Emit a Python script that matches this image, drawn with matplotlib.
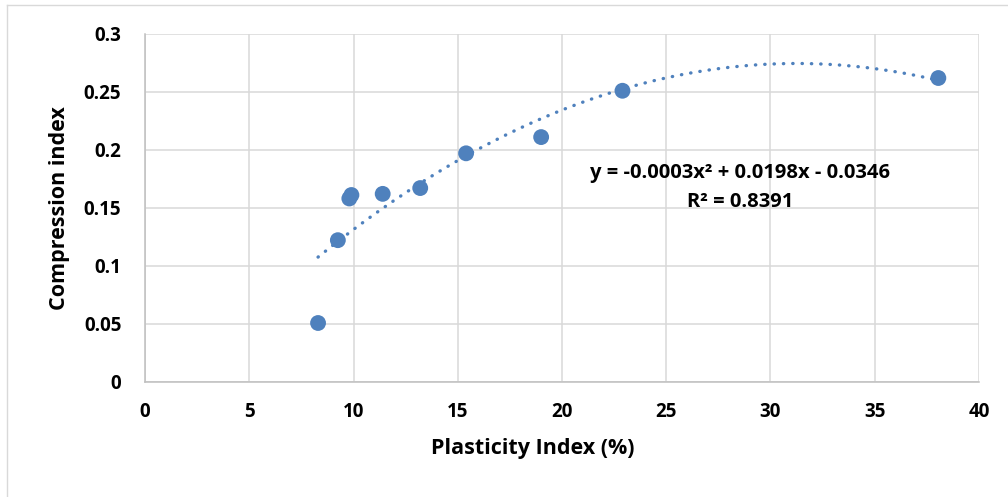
import numpy as np
import matplotlib
matplotlib.use("Agg")
from matplotlib import pyplot as plt
from matplotlib.lines import Line2D

# plasticity index (%) vs compression index
plasticity_index = [8.3, 9.25, 9.8, 9.9, 11.4, 13.2, 15.4, 19.0, 22.9, 38.05]
compression_index = [0.0505, 0.122, 0.158, 0.161, 0.162, 0.167, 0.197, 0.211, 0.251, 0.262]

x_ticks = [0, 5, 10, 15, 20, 25, 30, 35, 40]
y_ticks = [0, 0.05, 0.1, 0.15, 0.2, 0.25, 0.3]
y_tick_labels = ["0", "0.05", "0.1", "0.15", "0.2", "0.25", "0.3"]

equation_text = "y = -0.0003x\u00b2 + 0.0198x - 0.0346"
r2_text = "R\u00b2 = 0.8391"

point_color = "#4f81bd"
grid_color = "#d9d9d9"

plt.rcParams["font.family"] = ["Open Sans", "DejaVu Sans"]
plt.rcParams["font.weight"] = "bold"

W, H = 1008, 497
fig = plt.figure(figsize=(W / 100, H / 100), dpi=100)
ax = fig.add_axes([145 / W, 1 - 381.5 / H, (979 - 145) / W, (381.5 - 34) / H])

# second order trendline fitted to the points
coeffs = np.polyfit(plasticity_index, compression_index, 2)
xs = np.linspace(min(plasticity_index), max(plasticity_index), 300)
ax.plot(xs, np.polyval(coeffs, xs), color=point_color, lw=2.4,
        linestyle=(0, (0.1, 2.7)), dash_capstyle="round", zorder=3)

ax.scatter(plasticity_index, compression_index, s=130, color=point_color,
           edgecolors="none", zorder=4)

ax.set_xlim(0, 40)
ax.set_ylim(0, 0.3)
ax.set_xticks(x_ticks)
ax.set_yticks(y_ticks)
ax.set_yticklabels(y_tick_labels)
ax.grid(True, color=grid_color, lw=1.1)
ax.set_axisbelow(True)
ax.tick_params(length=0, labelsize=13.5, colors="#000000")
ax.tick_params(axis="y", pad=17)
ax.tick_params(axis="x", pad=15)
for label in ax.get_xticklabels() + ax.get_yticklabels():
    label.set_fontweight("bold")
for side in ["top", "right"]:
    ax.spines[side].set_visible(False)
for side in ["left", "bottom"]:
    ax.spines[side].set_color("#bfbfbf")
    ax.spines[side].set_linewidth(1.1)

ax.set_xlabel("Plasticity Index (%)", fontsize=15.5, fontweight="bold")
ax.xaxis.set_label_coords((533 - 145) / 834, -(438 - 381.5) / 347.5)
ax.set_ylabel("Compression index", fontsize=15.5, fontweight="bold", labelpad=10)

# equation and R² placed in figure pixels (origin at the top left)
fig.text(740 / W, 1 - 173 / H, equation_text, fontsize=14.5, fontweight="bold",
         ha="center", va="center")
fig.text(740 / W, 1 - 202 / H, r2_text, fontsize=14.5, fontweight="bold",
         ha="center", va="center")

# thin chart-area border along the left and top edges
fig.add_artist(Line2D([7 / W, 7 / W], [0, 1 - 5 / H], transform=fig.transFigure,
                      color=grid_color, lw=1.0))
fig.add_artist(Line2D([7 / W, 1], [1 - 5 / H, 1 - 5 / H], transform=fig.transFigure,
                      color=grid_color, lw=1.0))

fig.savefig("out.png", dpi=100)
